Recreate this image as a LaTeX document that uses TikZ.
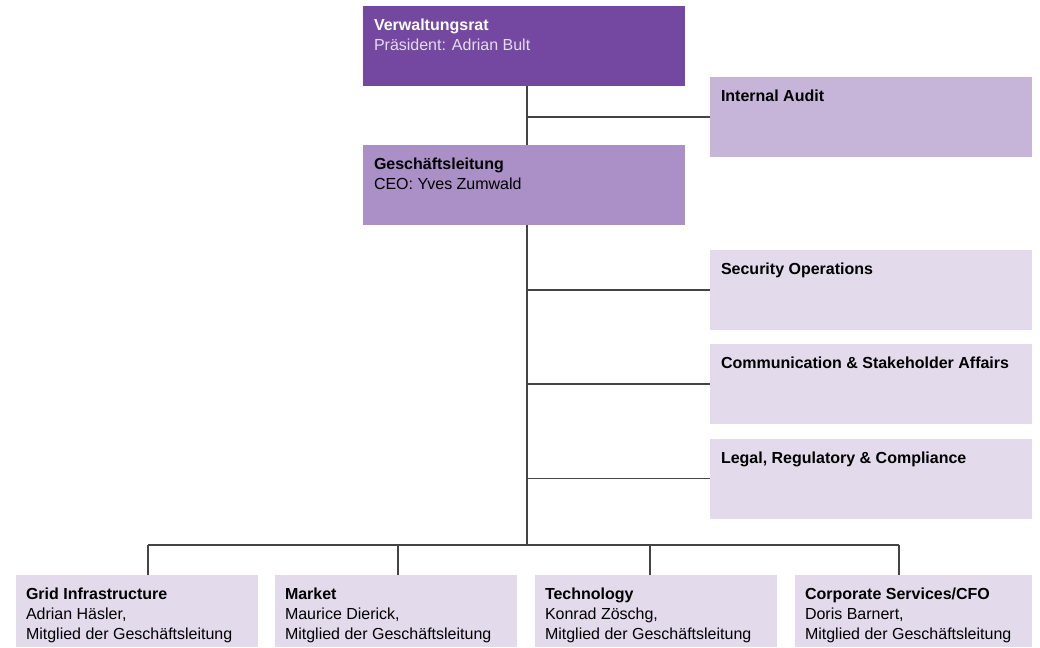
\documentclass[tikz,border=0pt]{standalone}
\usepackage{fontspec}
\setmainfont{Liberation Sans}
\definecolor{vrpurple}{HTML}{7447A0}
\definecolor{glpurple}{HTML}{AB90C7}
\definecolor{auditpurple}{HTML}{C6B5D9}
\definecolor{unitpurple}{HTML}{E3DAEC}
\definecolor{vrsub}{HTML}{E4DCEE}
\definecolor{linegray}{HTML}{444444}
\newcommand{\orgtext}[3]{\parbox[t][#1pt][t]{#2pt}{\fontsize{16}{20}\selectfont #3}}
\begin{document}
\begin{tikzpicture}[x=1pt,y=-1pt,
  orgbox/.style={anchor=north west,inner xsep=11pt,inner ysep=13pt,outer sep=0pt,align=left},
  conn/.style={draw=linegray,line width=1.2pt}]
  \useasboundingbox (0,0) rectangle (1040,647);
  % top of the tree
  \node[orgbox,fill=vrpurple,text=white] (vr) at (363,6)
    {\orgtext{54}{300}{\textbf{Verwaltungsrat}\\\textcolor{vrsub}{Präsident: Adrian Bult}}};
  \node[orgbox,fill=glpurple] (gl) at (363,145)
    {\orgtext{54}{300}{\textbf{Geschäftsleitung}\\CEO: Yves Zumwald}};
  \node[orgbox,fill=auditpurple] (audit) at (710,77)
    {\orgtext{54}{300}{\textbf{Internal Audit}}};
  % staff units
  \node[orgbox,fill=unitpurple] (secops) at (710,250)
    {\orgtext{54}{300}{\textbf{Security Operations}}};
  \node[orgbox,fill=unitpurple] (comm) at (710,344)
    {\orgtext{54}{300}{\textbf{Communication \& Stakeholder Affairs}}};
  \node[orgbox,fill=unitpurple] (legal) at (710,438.5)
    {\orgtext{54}{300}{\textbf{Legal, Regulatory \& Compliance}}};
  % divisions
  \node[orgbox,fill=unitpurple,inner xsep=10pt] (grid) at (16,575)
    {\orgtext{46}{222}{\textbf{Grid Infrastructure}\\Adrian Häsler,\\Mitglied der Geschäftsleitung}};
  \node[orgbox,fill=unitpurple,inner xsep=10pt] (market) at (275,575)
    {\orgtext{46}{222}{\textbf{Market}\\Maurice Dierick,\\Mitglied der Geschäftsleitung}};
  \node[orgbox,fill=unitpurple,inner xsep=10pt] (tech) at (535,575)
    {\orgtext{46}{222}{\textbf{Technology}\\Konrad Zöschg,\\Mitglied der Geschäftsleitung}};
  \node[orgbox,fill=unitpurple,inner xsep=10pt] (cfo) at (795,575)
    {\orgtext{46}{217}{\textbf{Corporate Services/CFO}\\Doris Barnert,\\Mitglied der Geschäftsleitung}};
  % connectors
  \coordinate (trunk) at (527,0);
  \coordinate (bus) at (0,545);
  \coordinate (d1) at (148,545);
  \coordinate (d2) at (398,545);
  \coordinate (d3) at (650,545);
  \coordinate (d4) at (899,545);
  \draw[conn] (vr.south -| trunk) -- (gl.north -| trunk);
  \draw[conn] (gl.south -| trunk) -- (bus -| trunk);
  \draw[conn] (audit.west) -- (audit.west -| trunk);
  \draw[conn] (secops.west) -- (secops.west -| trunk);
  \draw[conn] (comm.west) -- (comm.west -| trunk);
  \draw[conn] (legal.west) -- (legal.west -| trunk);
  \draw[conn] (d1) -- (d4);
  \draw[conn] (d1) -- (d1 |- grid.north);
  \draw[conn] (d2) -- (d2 |- market.north);
  \draw[conn] (d3) -- (d3 |- tech.north);
  \draw[conn] (d4) -- (d4 |- cfo.north);
\end{tikzpicture}
\end{document}
